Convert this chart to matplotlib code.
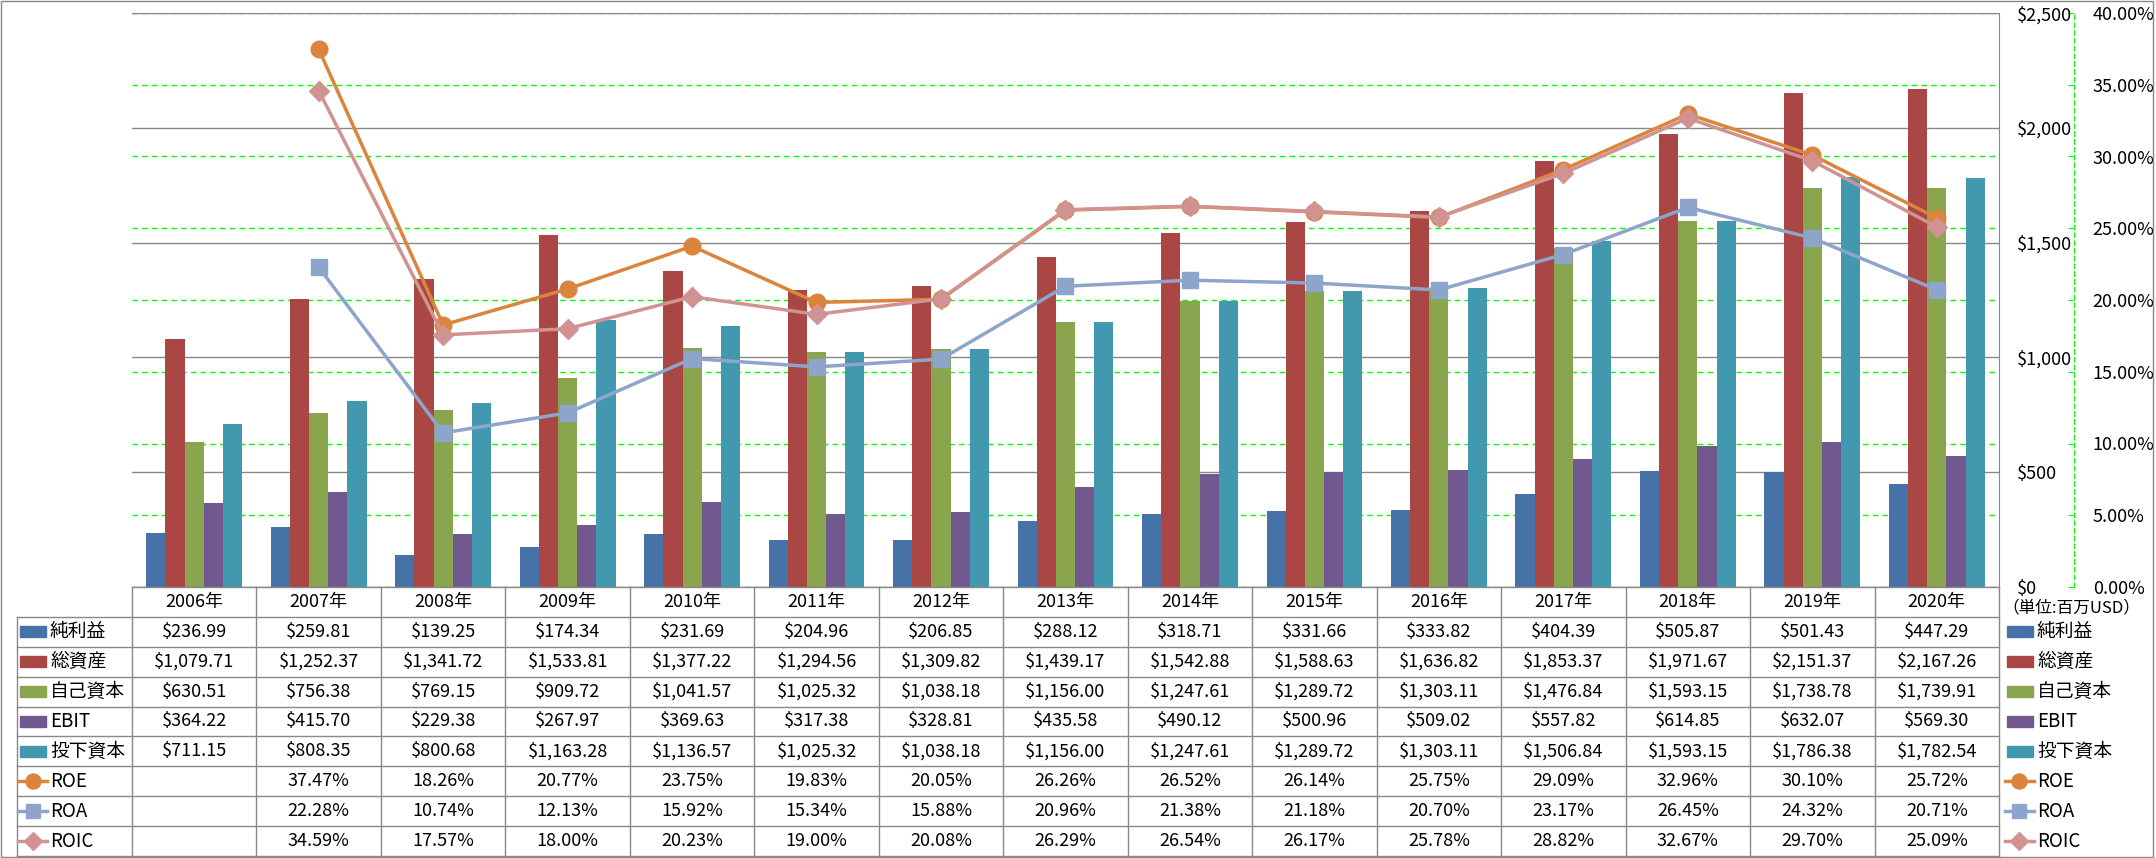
import matplotlib
matplotlib.use("Agg")
import matplotlib.pyplot as plt
import numpy as np
from matplotlib.lines import Line2D
from matplotlib.patches import Rectangle
from matplotlib.ticker import FuncFormatter

plt.rcParams["font.family"] = ["Noto Sans CJK JP", "DejaVu Sans"]

# data (単位: 百万USD / %)
years = ["2006年", "2007年", "2008年", "2009年", "2010年", "2011年", "2012年", "2013年",
         "2014年", "2015年", "2016年", "2017年", "2018年", "2019年", "2020年"]
net_income = [236.99, 259.81, 139.25, 174.34, 231.69, 204.96, 206.85, 288.12,
              318.71, 331.66, 333.82, 404.39, 505.87, 501.43, 447.29]
total_assets = [1079.71, 1252.37, 1341.72, 1533.81, 1377.22, 1294.56, 1309.82, 1439.17,
                1542.88, 1588.63, 1636.82, 1853.37, 1971.67, 2151.37, 2167.26]
equity = [630.51, 756.38, 769.15, 909.72, 1041.57, 1025.32, 1038.18, 1156.00,
          1247.61, 1289.72, 1303.11, 1476.84, 1593.15, 1738.78, 1739.91]
ebit = [364.22, 415.70, 229.38, 267.97, 369.63, 317.38, 328.81, 435.58,
        490.12, 500.96, 509.02, 557.82, 614.85, 632.07, 569.30]
invested = [711.15, 808.35, 800.68, 1163.28, 1136.57, 1025.32, 1038.18, 1156.00,
            1247.61, 1289.72, 1303.11, 1506.84, 1593.15, 1786.38, 1782.54]
roe = [np.nan, 37.47, 18.26, 20.77, 23.75, 19.83, 20.05, 26.26,
       26.52, 26.14, 25.75, 29.09, 32.96, 30.10, 25.72]
roa = [np.nan, 22.28, 10.74, 12.13, 15.92, 15.34, 15.88, 20.96,
       21.38, 21.18, 20.70, 23.17, 26.45, 24.32, 20.71]
roic = [np.nan, 34.59, 17.57, 18.00, 20.23, 19.00, 20.08, 26.29,
        26.54, 26.17, 25.78, 28.82, 32.67, 29.70, 25.09]

bar_series = [
    ("純利益", net_income, "#4572A7"),
    ("総資産", total_assets, "#AA4643"),
    ("自己資本", equity, "#89A54E"),
    ("EBIT", ebit, "#71588F"),
    ("投下資本", invested, "#4198AF"),
]
line_series = [
    ("ROE", roe, "#DB843D", "o", 12),
    ("ROA", roa, "#8EA5CB", "s", 11),
    ("ROIC", roic, "#D19392", "D", 10),
]

W, H = 2156, 858
L, R, T, B = 132, 1999, 13, 587     # plot box in px
TB = 856                            # table bottom
GRAY = "#898989"
FS = 13

fig = plt.figure(figsize=(W / 100, H / 100), dpi=100)
rect = [L / W, 1 - B / H, (R - L) / W, (B - T) / H]
x = np.arange(len(years))

# percent axis: green dashed grid + outer spine
ax_pct = fig.add_axes(rect)
ax_pct.set_xlim(-0.5, len(years) - 0.5)
ax_pct.set_ylim(0, 0.40)
ax_pct.set_yticks(np.arange(0, 0.401, 0.05))
ax_pct.yaxis.set_major_formatter(FuncFormatter(lambda v, _: f"{v * 100:.2f}%"))
ax_pct.yaxis.tick_right()
ax_pct.tick_params(axis="y", direction="in", length=4, color="#00FF00", pad=13.5, labelsize=FS)
ax_pct.set_xticks([])
ax_pct.grid(axis="y", color="#00FF00", linestyle=(0, (4, 3)), linewidth=1)
for s in ["top", "left", "bottom"]:
    ax_pct.spines[s].set_visible(False)
ax_pct.spines["right"].set_position(("outward", 54))
ax_pct.spines["right"].set_color("#00FF00")
ax_pct.spines["right"].set_linestyle((0, (4, 3)))

# bars ($)
ax_bar = fig.add_axes(rect)
ax_bar.patch.set_visible(False)
ax_bar.set_xlim(-0.5, len(years) - 0.5)
ax_bar.set_ylim(0, 2500)
ax_bar.set_yticks(np.arange(0, 2501, 500))
ax_bar.yaxis.set_major_formatter(FuncFormatter(lambda v, _: f"${v:,.0f}"))
ax_bar.yaxis.tick_right()
ax_bar.tick_params(axis="y", length=0, pad=13, labelsize=FS)
ax_bar.set_xticks([])
ax_bar.set_axisbelow(True)
ax_bar.grid(axis="y", color=GRAY, linewidth=1)
for s in ["left", "bottom"]:
    ax_bar.spines[s].set_visible(False)
ax_bar.spines["right"].set_color(GRAY)
ax_bar.spines["top"].set_color(GRAY)

bw = 0.154
for i, (name, vals, col) in enumerate(bar_series):
    ax_bar.bar(x + (i - 2) * bw, vals, width=bw, color=col, zorder=2)

# ratio lines (%)
ax_line = fig.add_axes(rect)
ax_line.set_xlim(-0.5, len(years) - 0.5)
ax_line.set_ylim(0, 40)
ax_line.set_axis_off()
for name, vals, col, mk, ms in line_series:
    ax_line.plot(x, vals, color=col, lw=2.5, marker=mk, ms=ms, mec=col, mfc=col)

# data table under the plot
ax_tab = fig.add_axes([L / W, 1 - TB / H, (R - L) / W, (TB - B) / H])
ax_tab.set_xlim(-0.5, len(years) - 0.5)
ax_tab.set_ylim(9, 0)
ax_tab.set_axis_off()
px = (len(years)) / (R - L)          # data units per pixel (x)
py = 9 / (TB - B)                    # data units per pixel (y)
x_left = -0.5 - (L - 17) * px
x_end = len(years) - 0.5

def hline(y, x0):
    ax_tab.add_line(Line2D([x0, x_end], [y, y], color=GRAY, lw=1, clip_on=False))

hline(0, -0.5)
for r in range(1, 10):
    hline(r, x_left)
for k in range(len(years) + 1):
    ax_tab.add_line(Line2D([k - 0.5, k - 0.5], [0, 9], color=GRAY, lw=1, clip_on=False))
ax_tab.add_line(Line2D([x_left, x_left], [1, 9], color=GRAY, lw=1, clip_on=False))

for i, yr in enumerate(years):
    ax_tab.text(i, 0.5, yr, ha="center", va="center", fontsize=FS)

rows = [(n, v, c, None, None, "bar") for n, v, c in bar_series] + \
       [(n, v, c, m, s, "line") for n, v, c, m, s in line_series]


def swatch(x0, r, name, col, mk, ms, kind):
    yc = r + 0.5
    if kind == "bar":
        ax_tab.add_patch(Rectangle((x0, yc - 5.5 * py), 26 * px, 11 * py, color=col, clip_on=False))
    else:
        ax_tab.add_line(Line2D([x0 - 2 * px, x0 + 27 * px], [yc, yc], color=col, lw=2.5, clip_on=False))
        ax_tab.add_line(Line2D([x0 + 12.5 * px], [yc], color=col, marker=mk, ms=ms * 0.9,
                               mec=col, mfc=col, clip_on=False))
    ax_tab.text(x0 + 30 * px, yc, name, ha="left", va="center", fontsize=13.5, clip_on=False)


for r, (name, vals, col, mk, ms, kind) in enumerate(rows, start=1):
    for i, v in enumerate(vals):
        if np.isnan(v):
            continue
        txt = f"${v:,.2f}" if kind == "bar" else f"{v:.2f}%"
        ax_tab.text(i, r + 0.5, txt, ha="center", va="center", fontsize=FS)
    swatch(x_left + 3 * px, r, name, col, mk, ms, kind)
    swatch(x_end + 8 * px, r, name, col, mk, ms, kind)

ax_tab.text(x_end + 72 * px, 0.7, "（単位:百万USD）", ha="center", va="center",
            fontsize=12, clip_on=False)

# outer frame
fig.patches.append(Rectangle((1 / W, 1 - 857 / H), 2152 / W, 856 / H, transform=fig.transFigure,
                             fill=False, edgecolor=GRAY, lw=1))

fig.savefig("out.png", dpi=100)
